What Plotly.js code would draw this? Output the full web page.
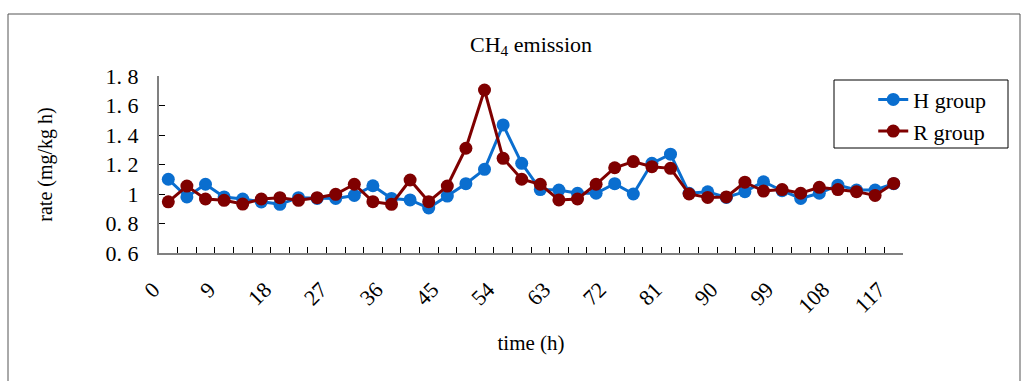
<!DOCTYPE html>
<html>
<head>
<meta charset="utf-8">
<script src="https://cdn.plot.ly/plotly-3.0.1.min.js"></script>
<style>
  html, body { margin: 0; padding: 0; background: #fff; }
  #chart { width: 1028px; height: 381px; }
</style>
</head>
<body>
<div id="chart"></div>
<script>
// time (h), one sample every 3 hours
const timeHours = [0,3,6,9,12,15,18,21,24,27,30,33,36,39,42,45,48,51,54,57,60,63,66,69,72,75,78,81,84,87,90,93,96,99,102,105,108,111,114,117];
const hGroup = [1.10,0.98,1.066,0.98,0.966,0.946,0.93,0.975,0.97,0.97,0.99,1.056,0.97,0.96,0.905,0.986,1.07,1.167,1.468,1.208,1.03,1.027,1.005,1.005,1.07,1.0,1.208,1.27,1.005,1.015,0.977,1.016,1.083,1.022,0.97,1.005,1.06,1.027,1.027,1.07];
const rGroup = [0.947,1.054,0.966,0.957,0.932,0.966,0.975,0.957,0.975,0.998,1.066,0.948,0.93,1.095,0.948,1.054,1.31,1.705,1.242,1.10,1.066,0.96,0.966,1.066,1.178,1.22,1.185,1.174,1.0,0.977,0.98,1.08,1.02,1.03,1.005,1.045,1.03,1.016,0.99,1.072];
const xTickVals = [0,9,18,27,36,45,54,63,72,81,90,99,108,117];
const yTickVals = [0.6,0.8,1.0,1.2,1.4,1.6,1.8];
const yTickText = ['0. 6','0. 8','1','1. 2','1. 4','1. 6','1. 8'];
const seriesNames = ['H group','R group'];
const seriesColors = ['#0A6ECF','#7F0000'];

// category boundaries (Excel-style tick marks between categories)
const step = timeHours[1] - timeHours[0];
const boundaries = timeHours.map(t => t - step/2).concat([timeHours[timeHours.length-1] + step/2]);

const serif = 'Liberation Serif, Times New Roman, serif';

const traces = [hGroup, rGroup].map((vals, k) => ({
  x: timeHours,
  y: vals,
  name: seriesNames[k],
  type: 'scatter',
  mode: 'lines+markers',
  line: {color: seriesColors[k], width: 3},
  marker: {color: seriesColors[k], size: 13}
}));

const layout = {
  width: 1028, height: 381,
  margin: {l: 159, r: 125, t: 76, b: 128},
  paper_bgcolor: '#fff', plot_bgcolor: '#fff',
  showlegend: true,
  title: {text: 'CH<sub>4</sub> emission', font: {family: serif, size: 22, color: '#000'},
          x: 0.5, xref: 'paper', xanchor: 'center', y: 0.885, yanchor: 'middle'},
  xaxis: {
    range: [boundaries[0], boundaries[boundaries.length-1]],
    tickmode: 'array', tickvals: xTickVals, ticktext: xTickVals.map(String),
    ticks: 'inside', ticklen: 6, tickcolor: 'rgba(0,0,0,0)', tickangle: -45,
    ticklabelstandoff: 13, ticklabelshift: -15,
    tickfont: {family: serif, size: 22, color: '#000'},
    showline: true, linecolor: '#808080', linewidth: 2,
    showgrid: false, zeroline: false,
    minor: {tickmode: 'array', tickvals: boundaries, ticks: 'inside', ticklen: 6, tickcolor: '#000', tickwidth: 1, showgrid: false},
    title: {text: 'time (h)', font: {family: serif, size: 21, color: '#000'}, standoff: 18}
  },
  yaxis: {
    range: [0.6, 1.8],
    tickmode: 'array', tickvals: yTickVals, ticktext: yTickText,
    ticks: 'inside', ticklen: 6, tickcolor: '#000', tickwidth: 1,
    ticklabelstandoff: 14,
    tickfont: {family: serif, size: 22, color: '#000'},
    showline: true, linecolor: '#808080', linewidth: 2,
    showgrid: false, zeroline: false,
    title: {text: 'rate (mg/kg h)', font: {family: serif, size: 20, color: '#000'}, standoff: 48}
  },
  legend: {
    x: 0.96, y: 0.985, xanchor: 'left', yanchor: 'top',
    font: {family: serif, size: 22, color: '#000'},
    bgcolor: 'rgba(0,0,0,0)', borderwidth: 0, tracegroupgap: 0
  },
  shapes: [
    {type: 'rect', xref: 'paper', yref: 'paper', x0: (834-159)/744, x1: (1008-159)/744, y0: (253-148)/177, y1: (253-80)/177,
     line: {color: '#000', width: 1}, fillcolor: 'rgba(0,0,0,0)'},
    {type: 'rect', xref: 'paper', yref: 'paper', x0: (8-159)/744, x1: (1020-159)/744, y0: (253-400)/177, y1: (253-14)/177,
     line: {color: '#555', width: 1}, fillcolor: 'rgba(0,0,0,0)'}
  ]
};

Plotly.newPlot('chart', traces, layout, {displayModeBar: false, staticPlot: true});
</script>
</body>
</html>
